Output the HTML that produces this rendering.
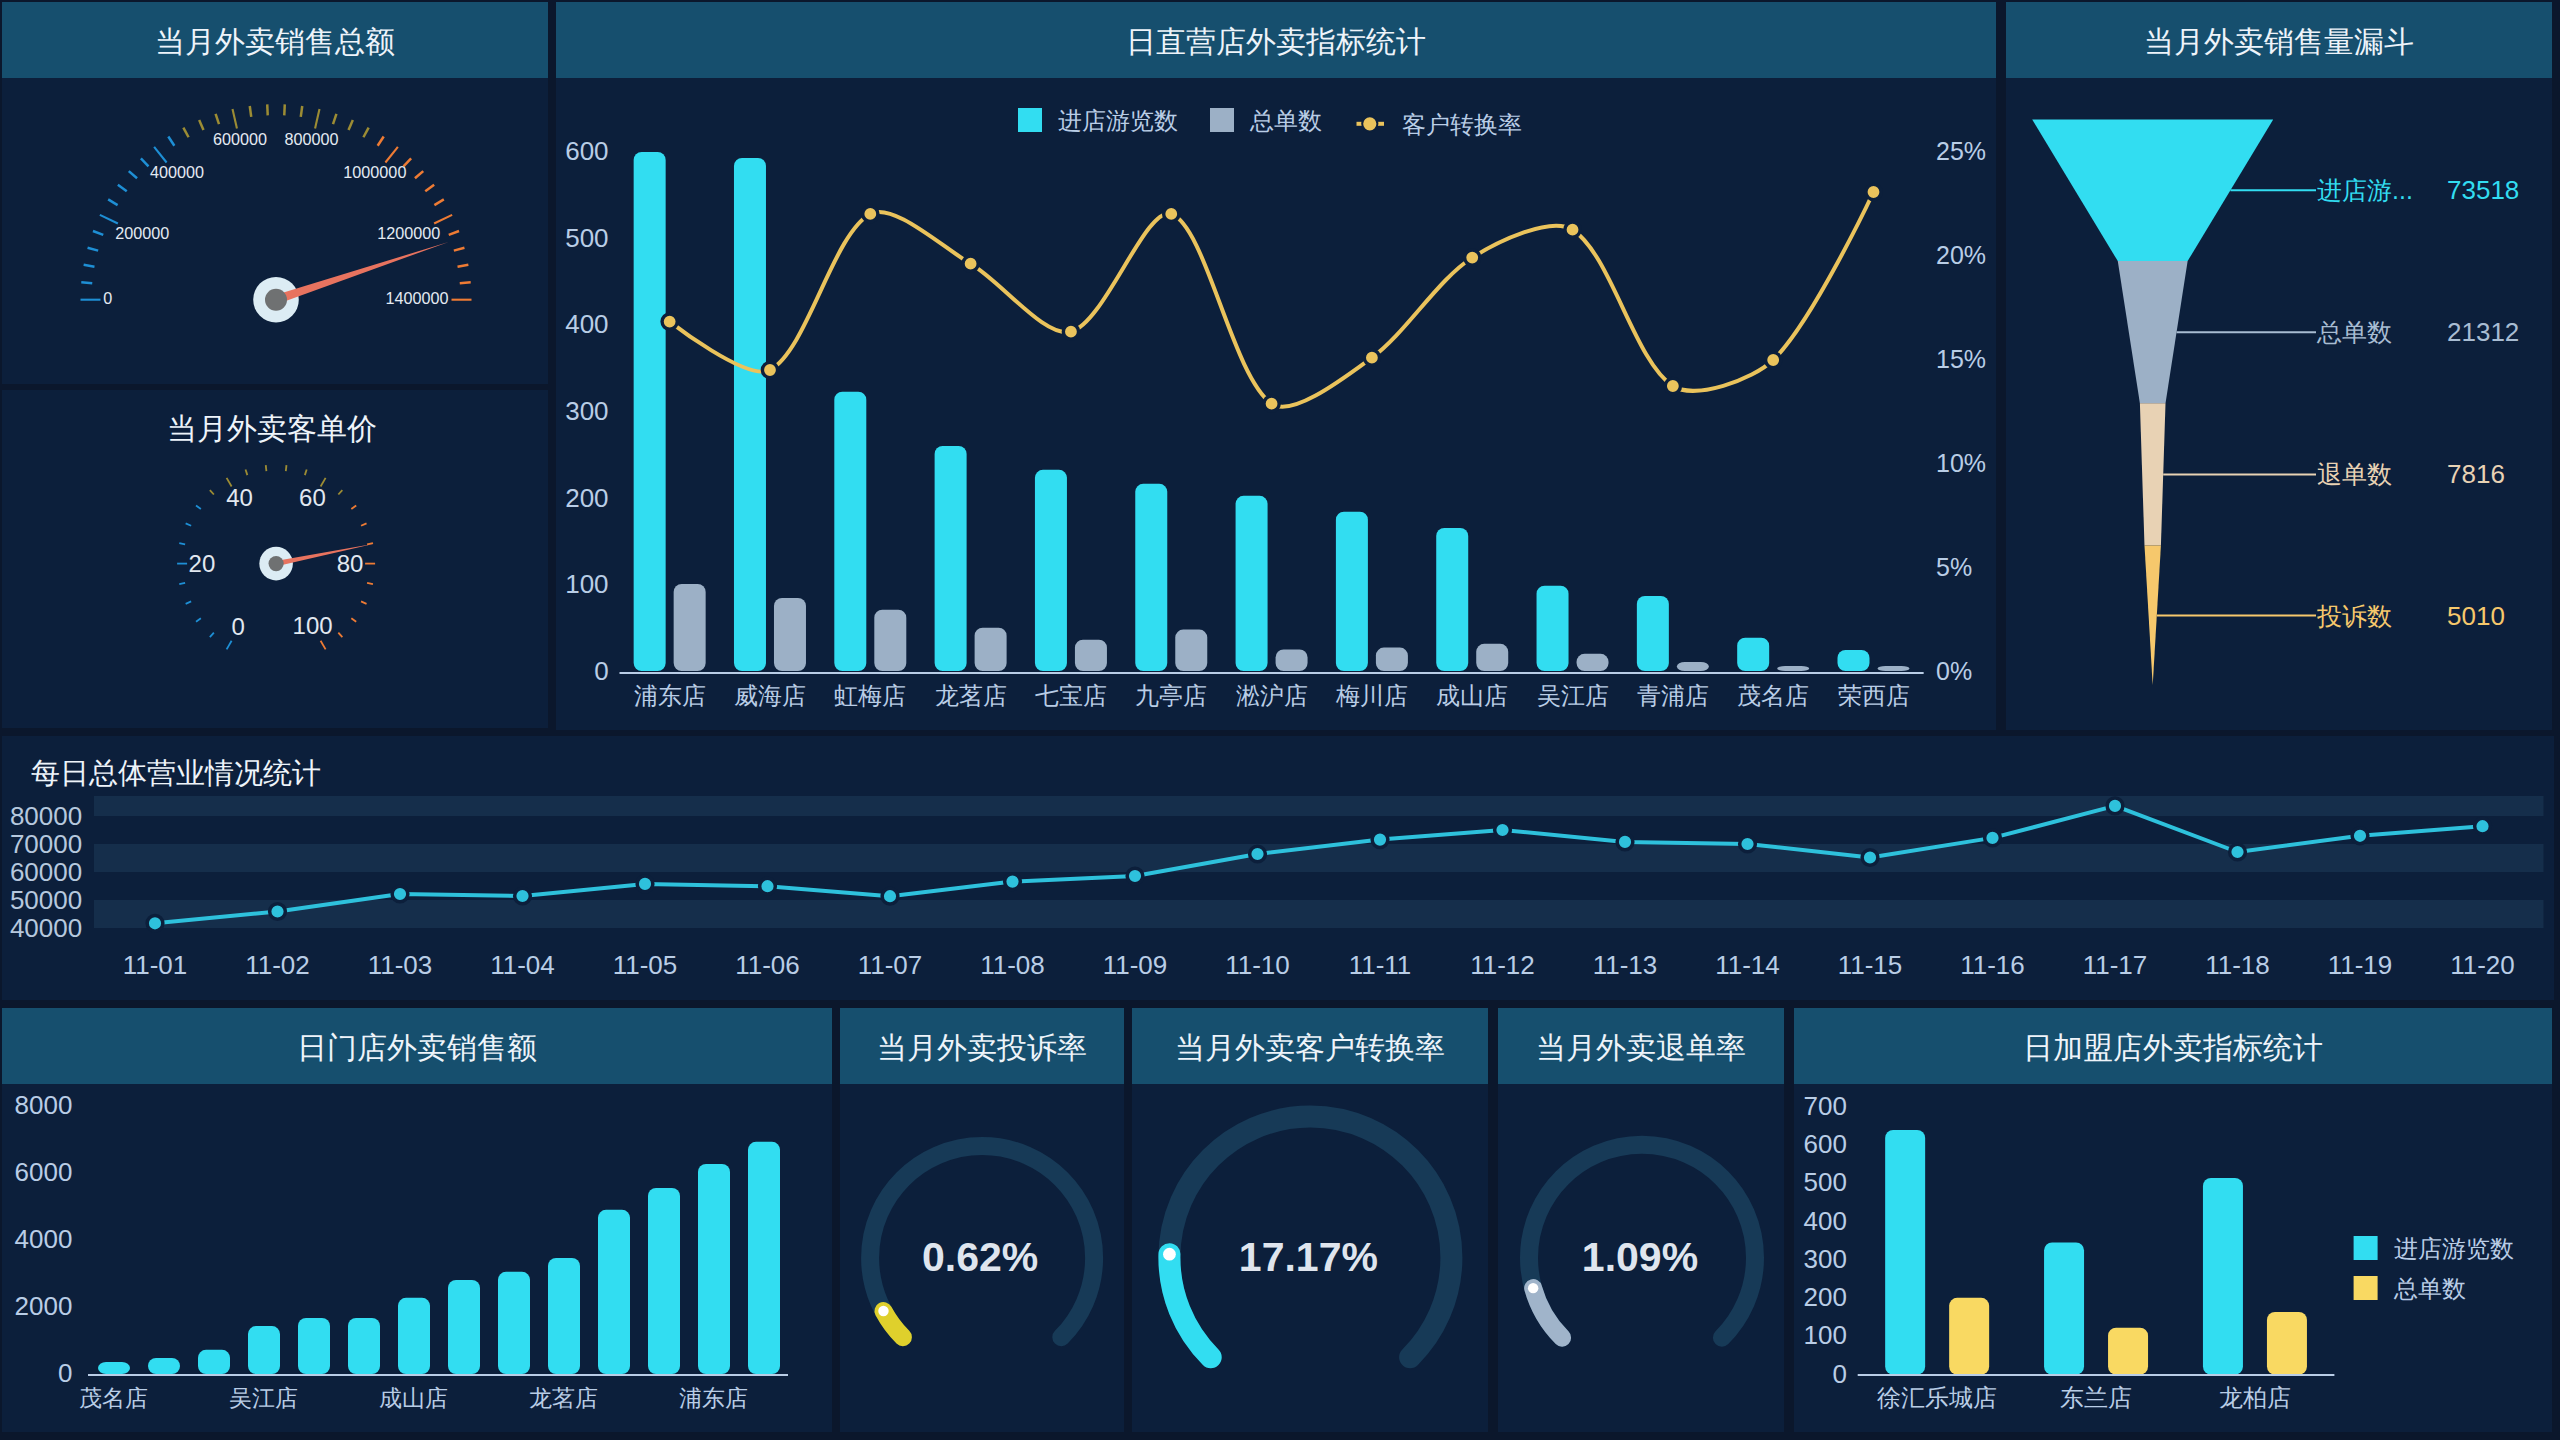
<!DOCTYPE html>
<html><head><meta charset="utf-8"><title>外卖数据大屏</title>
<style>html,body{margin:0;padding:0;background:#0b172c;width:2560px;height:1440px;overflow:hidden}
svg{display:block;font-family:'Liberation Sans', sans-serif}</style></head>
<body><svg width="2560" height="1440" viewBox="0 0 2560 1440">
<rect x="0.00" y="0.00" width="2560.00" height="1440.00" fill="#0b172c" />
<rect x="2.00" y="2.00" width="546.00" height="382.00" fill="#0c1f3b" />
<rect x="2.00" y="2.00" width="546.00" height="76.00" fill="#164f6e" />
<text x="275.00" y="41.00" font-size="30" fill="#eef4fa" text-anchor="middle" dominant-baseline="central" font-weight="normal" >当月外卖销售总额</text>
<rect x="2.00" y="390.00" width="546.00" height="338.00" fill="#0c1f3b" />
<rect x="556.00" y="2.00" width="1440.00" height="728.00" fill="#0c1f3b" />
<rect x="556.00" y="2.00" width="1440.00" height="76.00" fill="#164f6e" />
<text x="1276.00" y="41.00" font-size="30" fill="#eef4fa" text-anchor="middle" dominant-baseline="central" font-weight="normal" >日直营店外卖指标统计</text>
<rect x="2006.00" y="2.00" width="546.00" height="728.00" fill="#0c1f3b" />
<rect x="2006.00" y="2.00" width="546.00" height="76.00" fill="#164f6e" />
<text x="2279.00" y="41.00" font-size="30" fill="#eef4fa" text-anchor="middle" dominant-baseline="central" font-weight="normal" >当月外卖销售量漏斗</text>
<rect x="2.00" y="736.00" width="2552.00" height="264.00" fill="#0c1f3b" />
<rect x="2.00" y="1008.00" width="830.00" height="424.00" fill="#0c1f3b" />
<rect x="2.00" y="1008.00" width="830.00" height="76.00" fill="#164f6e" />
<text x="417.00" y="1047.00" font-size="30" fill="#eef4fa" text-anchor="middle" dominant-baseline="central" font-weight="normal" >日门店外卖销售额</text>
<rect x="840.00" y="1008.00" width="284.00" height="424.00" fill="#0c1f3b" />
<rect x="840.00" y="1008.00" width="284.00" height="76.00" fill="#164f6e" />
<text x="982.00" y="1047.00" font-size="30" fill="#eef4fa" text-anchor="middle" dominant-baseline="central" font-weight="normal" >当月外卖投诉率</text>
<rect x="1132.00" y="1008.00" width="356.00" height="424.00" fill="#0c1f3b" />
<rect x="1132.00" y="1008.00" width="356.00" height="76.00" fill="#164f6e" />
<text x="1310.00" y="1047.00" font-size="30" fill="#eef4fa" text-anchor="middle" dominant-baseline="central" font-weight="normal" >当月外卖客户转换率</text>
<rect x="1498.00" y="1008.00" width="286.00" height="424.00" fill="#0c1f3b" />
<rect x="1498.00" y="1008.00" width="286.00" height="76.00" fill="#164f6e" />
<text x="1641.00" y="1047.00" font-size="30" fill="#eef4fa" text-anchor="middle" dominant-baseline="central" font-weight="normal" >当月外卖退单率</text>
<rect x="1794.00" y="1008.00" width="758.00" height="424.00" fill="#0c1f3b" />
<rect x="1794.00" y="1008.00" width="758.00" height="76.00" fill="#164f6e" />
<text x="2173.00" y="1047.00" font-size="30" fill="#eef4fa" text-anchor="middle" dominant-baseline="central" font-weight="normal" >日加盟店外卖指标统计</text>
<line x1="80.50" y1="299.70" x2="100.50" y2="299.70" stroke="#1e8fd5" stroke-width="2.1"/>
<line x1="81.29" y1="282.18" x2="92.24" y2="283.16" stroke="#1e8fd5" stroke-width="2.5"/>
<line x1="83.64" y1="264.79" x2="94.46" y2="266.76" stroke="#1e8fd5" stroke-width="2.5"/>
<line x1="87.55" y1="247.69" x2="98.15" y2="250.62" stroke="#1e8fd5" stroke-width="2.5"/>
<line x1="92.97" y1="231.01" x2="103.26" y2="234.87" stroke="#1e8fd5" stroke-width="2.5"/>
<line x1="99.86" y1="214.88" x2="117.88" y2="223.55" stroke="#1e8fd5" stroke-width="2.1"/>
<line x1="108.17" y1="199.43" x2="117.62" y2="205.07" stroke="#1e8fd5" stroke-width="2.5"/>
<line x1="117.84" y1="184.79" x2="126.74" y2="191.25" stroke="#1e8fd5" stroke-width="2.5"/>
<line x1="128.77" y1="171.07" x2="137.06" y2="178.31" stroke="#1e8fd5" stroke-width="2.5"/>
<line x1="140.90" y1="158.39" x2="148.50" y2="166.34" stroke="#1e8fd5" stroke-width="2.5"/>
<line x1="154.11" y1="146.85" x2="166.58" y2="162.49" stroke="#1e8fd5" stroke-width="2.1"/>
<line x1="168.30" y1="136.54" x2="174.36" y2="145.72" stroke="#1e8fd5" stroke-width="2.5"/>
<line x1="183.36" y1="127.54" x2="188.57" y2="137.23" stroke="#9c8c34" stroke-width="2.5"/>
<line x1="199.16" y1="119.93" x2="203.49" y2="130.05" stroke="#9c8c34" stroke-width="2.5"/>
<line x1="215.59" y1="113.77" x2="218.99" y2="124.23" stroke="#9c8c34" stroke-width="2.5"/>
<line x1="232.50" y1="109.10" x2="236.95" y2="128.60" stroke="#9c8c34" stroke-width="2.1"/>
<line x1="249.76" y1="105.97" x2="251.23" y2="116.87" stroke="#9c8c34" stroke-width="2.5"/>
<line x1="267.23" y1="104.40" x2="267.72" y2="115.39" stroke="#9c8c34" stroke-width="2.5"/>
<line x1="284.77" y1="104.40" x2="284.28" y2="115.39" stroke="#9c8c34" stroke-width="2.5"/>
<line x1="302.24" y1="105.97" x2="300.77" y2="116.87" stroke="#9c8c34" stroke-width="2.5"/>
<line x1="319.50" y1="109.10" x2="315.05" y2="128.60" stroke="#9c8c34" stroke-width="2.1"/>
<line x1="336.41" y1="113.77" x2="333.01" y2="124.23" stroke="#9c8c34" stroke-width="2.5"/>
<line x1="352.84" y1="119.93" x2="348.51" y2="130.05" stroke="#9c8c34" stroke-width="2.5"/>
<line x1="368.64" y1="127.54" x2="363.43" y2="137.23" stroke="#9c8c34" stroke-width="2.5"/>
<line x1="383.70" y1="136.54" x2="377.64" y2="145.72" stroke="#ee7b34" stroke-width="2.5"/>
<line x1="397.89" y1="146.85" x2="385.42" y2="162.49" stroke="#ee7b34" stroke-width="2.1"/>
<line x1="411.10" y1="158.39" x2="403.50" y2="166.34" stroke="#ee7b34" stroke-width="2.5"/>
<line x1="423.23" y1="171.07" x2="414.94" y2="178.31" stroke="#ee7b34" stroke-width="2.5"/>
<line x1="434.16" y1="184.79" x2="425.26" y2="191.25" stroke="#ee7b34" stroke-width="2.5"/>
<line x1="443.83" y1="199.43" x2="434.38" y2="205.07" stroke="#ee7b34" stroke-width="2.5"/>
<line x1="452.14" y1="214.88" x2="434.12" y2="223.55" stroke="#ee7b34" stroke-width="2.1"/>
<line x1="459.03" y1="231.01" x2="448.74" y2="234.87" stroke="#ee7b34" stroke-width="2.5"/>
<line x1="464.45" y1="247.69" x2="453.85" y2="250.62" stroke="#ee7b34" stroke-width="2.5"/>
<line x1="468.36" y1="264.79" x2="457.54" y2="266.76" stroke="#ee7b34" stroke-width="2.5"/>
<line x1="470.71" y1="282.18" x2="459.76" y2="283.16" stroke="#ee7b34" stroke-width="2.5"/>
<line x1="471.50" y1="299.70" x2="451.50" y2="299.70" stroke="#ee7b34" stroke-width="2.1"/>
<text x="103.30" y="297.80" font-size="16.2" fill="#e4eaf2" text-anchor="start" dominant-baseline="central" font-weight="normal" >0</text>
<text x="115.30" y="233.30" font-size="16.2" fill="#e4eaf2" text-anchor="start" dominant-baseline="central" font-weight="normal" >200000</text>
<text x="150.00" y="172.20" font-size="16.2" fill="#e4eaf2" text-anchor="start" dominant-baseline="central" font-weight="normal" >400000</text>
<text x="240.00" y="138.90" font-size="16.2" fill="#e4eaf2" text-anchor="middle" dominant-baseline="central" font-weight="normal" >600000</text>
<text x="311.50" y="138.90" font-size="16.2" fill="#e4eaf2" text-anchor="middle" dominant-baseline="central" font-weight="normal" >800000</text>
<text x="406.40" y="172.20" font-size="16.2" fill="#e4eaf2" text-anchor="end" dominant-baseline="central" font-weight="normal" >1000000</text>
<text x="440.30" y="233.30" font-size="16.2" fill="#e4eaf2" text-anchor="end" dominant-baseline="central" font-weight="normal" >1200000</text>
<text x="448.60" y="297.80" font-size="16.2" fill="#e4eaf2" text-anchor="end" dominant-baseline="central" font-weight="normal" >1400000</text>
<circle cx="276.0" cy="299.7" r="22.8" fill="#dcecf4"/>
<polygon points="267.28,302.62 277.46,304.06 448.59,241.95 274.54,295.34" fill="#e8735f"/>
<circle cx="276.0" cy="299.7" r="11" fill="#6f7172"/>
<text x="271.50" y="428.00" font-size="30" fill="#eef4fa" text-anchor="middle" dominant-baseline="central" font-weight="normal" >当月外卖客单价</text>
<line x1="226.60" y1="649.34" x2="231.60" y2="640.68" stroke="#1e8fd5" stroke-width="1.8"/>
<line x1="209.86" y1="637.17" x2="213.87" y2="632.71" stroke="#1e8fd5" stroke-width="1.8"/>
<line x1="196.01" y1="621.79" x2="200.86" y2="618.26" stroke="#1e8fd5" stroke-width="1.8"/>
<line x1="185.66" y1="603.87" x2="191.14" y2="601.43" stroke="#1e8fd5" stroke-width="1.8"/>
<line x1="179.26" y1="584.18" x2="185.13" y2="582.94" stroke="#1e8fd5" stroke-width="1.8"/>
<line x1="177.10" y1="563.60" x2="187.10" y2="563.60" stroke="#1e8fd5" stroke-width="1.8"/>
<line x1="179.26" y1="543.02" x2="185.13" y2="544.26" stroke="#1e8fd5" stroke-width="1.8"/>
<line x1="185.66" y1="523.33" x2="191.14" y2="525.77" stroke="#1e8fd5" stroke-width="1.8"/>
<line x1="196.01" y1="505.41" x2="200.86" y2="508.94" stroke="#1e8fd5" stroke-width="1.8"/>
<line x1="209.86" y1="490.03" x2="213.87" y2="494.49" stroke="#9c8c34" stroke-width="1.8"/>
<line x1="226.60" y1="477.86" x2="231.60" y2="486.52" stroke="#9c8c34" stroke-width="1.8"/>
<line x1="245.51" y1="469.45" x2="247.36" y2="475.15" stroke="#9c8c34" stroke-width="1.8"/>
<line x1="265.75" y1="465.14" x2="266.38" y2="471.11" stroke="#9c8c34" stroke-width="1.8"/>
<line x1="286.45" y1="465.14" x2="285.82" y2="471.11" stroke="#9c8c34" stroke-width="1.8"/>
<line x1="306.69" y1="469.45" x2="304.84" y2="475.15" stroke="#9c8c34" stroke-width="1.8"/>
<line x1="325.60" y1="477.86" x2="320.60" y2="486.52" stroke="#9c8c34" stroke-width="1.8"/>
<line x1="342.34" y1="490.03" x2="338.33" y2="494.49" stroke="#9c8c34" stroke-width="1.8"/>
<line x1="356.19" y1="505.41" x2="351.34" y2="508.94" stroke="#ee7b34" stroke-width="1.8"/>
<line x1="366.54" y1="523.33" x2="361.06" y2="525.77" stroke="#ee7b34" stroke-width="1.8"/>
<line x1="372.94" y1="543.02" x2="367.07" y2="544.26" stroke="#ee7b34" stroke-width="1.8"/>
<line x1="375.10" y1="563.60" x2="365.10" y2="563.60" stroke="#ee7b34" stroke-width="1.8"/>
<line x1="372.94" y1="584.18" x2="367.07" y2="582.94" stroke="#ee7b34" stroke-width="1.8"/>
<line x1="366.54" y1="603.87" x2="361.06" y2="601.43" stroke="#ee7b34" stroke-width="1.8"/>
<line x1="356.19" y1="621.79" x2="351.34" y2="618.26" stroke="#ee7b34" stroke-width="1.8"/>
<line x1="342.34" y1="637.17" x2="338.33" y2="632.71" stroke="#ee7b34" stroke-width="1.8"/>
<line x1="325.60" y1="649.34" x2="320.60" y2="640.68" stroke="#ee7b34" stroke-width="1.8"/>
<text x="238.20" y="626.20" font-size="24" fill="#e2e8f0" text-anchor="middle" dominant-baseline="central" font-weight="normal" >0</text>
<text x="201.90" y="563.30" font-size="24" fill="#e2e8f0" text-anchor="middle" dominant-baseline="central" font-weight="normal" >20</text>
<text x="239.60" y="497.60" font-size="24" fill="#e2e8f0" text-anchor="middle" dominant-baseline="central" font-weight="normal" >40</text>
<text x="312.40" y="497.60" font-size="24" fill="#e2e8f0" text-anchor="middle" dominant-baseline="central" font-weight="normal" >60</text>
<text x="350.00" y="563.30" font-size="24" fill="#e2e8f0" text-anchor="middle" dominant-baseline="central" font-weight="normal" >80</text>
<text x="312.60" y="625.30" font-size="24" fill="#e2e8f0" text-anchor="middle" dominant-baseline="central" font-weight="normal" >100</text>
<circle cx="276.1" cy="563.6" r="16.8" fill="#dcecf4"/>
<polygon points="271.00,564.64 276.62,566.15 374.09,543.66 275.58,561.05" fill="#e8735f"/>
<circle cx="276.1" cy="563.6" r="7.6" fill="#6f7172"/>
<rect x="1018.00" y="108.00" width="24.00" height="24.00" fill="#32ddf1" />
<text x="1058.00" y="120.00" font-size="24" fill="#b9cde6" text-anchor="start" dominant-baseline="central" font-weight="normal" >进店游览数</text>
<rect x="1210.00" y="108.00" width="24.00" height="24.00" fill="#9cb0c6" />
<text x="1250.00" y="120.00" font-size="24" fill="#b9cde6" text-anchor="start" dominant-baseline="central" font-weight="normal" >总单数</text>
<line x1="1356.5" y1="123.8" x2="1384" y2="123.8" stroke="#eac35c" stroke-width="4"/>
<circle cx="1369.8" cy="123.8" r="7.6" fill="#eac35c" stroke="#0c1f3b" stroke-width="2"/>
<text x="1402.00" y="124.00" font-size="24" fill="#b9cde6" text-anchor="start" dominant-baseline="central" font-weight="normal" >客户转换率</text>
<text x="608.60" y="671.00" font-size="26" fill="#b9cde6" text-anchor="end" dominant-baseline="central" font-weight="normal" >0</text>
<text x="608.60" y="584.33" font-size="26" fill="#b9cde6" text-anchor="end" dominant-baseline="central" font-weight="normal" >100</text>
<text x="608.60" y="497.66" font-size="26" fill="#b9cde6" text-anchor="end" dominant-baseline="central" font-weight="normal" >200</text>
<text x="608.60" y="410.99" font-size="26" fill="#b9cde6" text-anchor="end" dominant-baseline="central" font-weight="normal" >300</text>
<text x="608.60" y="324.32" font-size="26" fill="#b9cde6" text-anchor="end" dominant-baseline="central" font-weight="normal" >400</text>
<text x="608.60" y="237.65" font-size="26" fill="#b9cde6" text-anchor="end" dominant-baseline="central" font-weight="normal" >500</text>
<text x="608.60" y="150.98" font-size="26" fill="#b9cde6" text-anchor="end" dominant-baseline="central" font-weight="normal" >600</text>
<text x="1936.00" y="671.00" font-size="25" fill="#b9cde6" text-anchor="start" dominant-baseline="central" font-weight="normal" >0%</text>
<text x="1936.00" y="567.00" font-size="25" fill="#b9cde6" text-anchor="start" dominant-baseline="central" font-weight="normal" >5%</text>
<text x="1936.00" y="463.00" font-size="25" fill="#b9cde6" text-anchor="start" dominant-baseline="central" font-weight="normal" >10%</text>
<text x="1936.00" y="359.00" font-size="25" fill="#b9cde6" text-anchor="start" dominant-baseline="central" font-weight="normal" >15%</text>
<text x="1936.00" y="255.00" font-size="25" fill="#b9cde6" text-anchor="start" dominant-baseline="central" font-weight="normal" >20%</text>
<text x="1936.00" y="151.00" font-size="25" fill="#b9cde6" text-anchor="start" dominant-baseline="central" font-weight="normal" >25%</text>
<rect x="633.66" y="152.00" width="32" height="519.00" rx="8" ry="8.00" fill="#32ddf1"/>
<rect x="673.66" y="584.00" width="32" height="87.00" rx="8" ry="8.00" fill="#9cb0c6"/>
<text x="669.66" y="695.50" font-size="24" fill="#b9cde6" text-anchor="middle" dominant-baseline="central" font-weight="normal" >浦东店</text>
<rect x="733.98" y="158.00" width="32" height="513.00" rx="8" ry="8.00" fill="#32ddf1"/>
<rect x="773.98" y="598.00" width="32" height="73.00" rx="8" ry="8.00" fill="#9cb0c6"/>
<text x="769.98" y="695.50" font-size="24" fill="#b9cde6" text-anchor="middle" dominant-baseline="central" font-weight="normal" >威海店</text>
<rect x="834.30" y="391.70" width="32" height="279.30" rx="8" ry="8.00" fill="#32ddf1"/>
<rect x="874.30" y="609.70" width="32" height="61.30" rx="8" ry="8.00" fill="#9cb0c6"/>
<text x="870.30" y="695.50" font-size="24" fill="#b9cde6" text-anchor="middle" dominant-baseline="central" font-weight="normal" >虹梅店</text>
<rect x="934.62" y="446.00" width="32" height="225.00" rx="8" ry="8.00" fill="#32ddf1"/>
<rect x="974.62" y="627.70" width="32" height="43.30" rx="8" ry="8.00" fill="#9cb0c6"/>
<text x="970.62" y="695.50" font-size="24" fill="#b9cde6" text-anchor="middle" dominant-baseline="central" font-weight="normal" >龙茗店</text>
<rect x="1034.94" y="469.80" width="32" height="201.20" rx="8" ry="8.00" fill="#32ddf1"/>
<rect x="1074.94" y="639.70" width="32" height="31.30" rx="8" ry="8.00" fill="#9cb0c6"/>
<text x="1070.94" y="695.50" font-size="24" fill="#b9cde6" text-anchor="middle" dominant-baseline="central" font-weight="normal" >七宝店</text>
<rect x="1135.26" y="483.80" width="32" height="187.20" rx="8" ry="8.00" fill="#32ddf1"/>
<rect x="1175.26" y="629.60" width="32" height="41.40" rx="8" ry="8.00" fill="#9cb0c6"/>
<text x="1171.26" y="695.50" font-size="24" fill="#b9cde6" text-anchor="middle" dominant-baseline="central" font-weight="normal" >九亭店</text>
<rect x="1235.58" y="495.80" width="32" height="175.20" rx="8" ry="8.00" fill="#32ddf1"/>
<rect x="1275.58" y="649.50" width="32" height="21.50" rx="8" ry="8.00" fill="#9cb0c6"/>
<text x="1271.58" y="695.50" font-size="24" fill="#b9cde6" text-anchor="middle" dominant-baseline="central" font-weight="normal" >淞沪店</text>
<rect x="1335.90" y="511.70" width="32" height="159.30" rx="8" ry="8.00" fill="#32ddf1"/>
<rect x="1375.90" y="647.60" width="32" height="23.40" rx="8" ry="8.00" fill="#9cb0c6"/>
<text x="1371.90" y="695.50" font-size="24" fill="#b9cde6" text-anchor="middle" dominant-baseline="central" font-weight="normal" >梅川店</text>
<rect x="1436.22" y="528.00" width="32" height="143.00" rx="8" ry="8.00" fill="#32ddf1"/>
<rect x="1476.22" y="643.80" width="32" height="27.20" rx="8" ry="8.00" fill="#9cb0c6"/>
<text x="1472.22" y="695.50" font-size="24" fill="#b9cde6" text-anchor="middle" dominant-baseline="central" font-weight="normal" >成山店</text>
<rect x="1536.54" y="585.70" width="32" height="85.30" rx="8" ry="8.00" fill="#32ddf1"/>
<rect x="1576.54" y="653.80" width="32" height="17.20" rx="8" ry="8.00" fill="#9cb0c6"/>
<text x="1572.54" y="695.50" font-size="24" fill="#b9cde6" text-anchor="middle" dominant-baseline="central" font-weight="normal" >吴江店</text>
<rect x="1636.86" y="595.90" width="32" height="75.10" rx="8" ry="8.00" fill="#32ddf1"/>
<rect x="1676.86" y="661.90" width="32" height="9.10" rx="8" ry="4.55" fill="#9cb0c6"/>
<text x="1672.86" y="695.50" font-size="24" fill="#b9cde6" text-anchor="middle" dominant-baseline="central" font-weight="normal" >青浦店</text>
<rect x="1737.18" y="637.70" width="32" height="33.30" rx="8" ry="8.00" fill="#32ddf1"/>
<rect x="1777.18" y="666.00" width="32" height="5.00" rx="8" ry="2.50" fill="#9cb0c6"/>
<text x="1773.18" y="695.50" font-size="24" fill="#b9cde6" text-anchor="middle" dominant-baseline="central" font-weight="normal" >茂名店</text>
<rect x="1837.50" y="649.90" width="32" height="21.10" rx="8" ry="8.00" fill="#32ddf1"/>
<rect x="1877.50" y="666.00" width="32" height="5.00" rx="8" ry="2.50" fill="#9cb0c6"/>
<text x="1873.50" y="695.50" font-size="24" fill="#b9cde6" text-anchor="middle" dominant-baseline="central" font-weight="normal" >荣西店</text>
<rect x="619.5" y="672" width="1304.16" height="2" fill="#b9cde6"/>
<path d="M669.66,321.60 C669.66,321.60 747.40,382.12 769.98,370.00 C807.59,349.81 832.76,233.79 870.30,213.90 C892.96,201.90 941.71,246.73 970.62,263.70 C1001.90,282.07 1044.50,338.26 1070.94,331.70 C1104.69,323.32 1146.05,204.85 1171.26,213.90 C1206.24,226.45 1231.83,375.21 1271.58,403.70 C1292.02,418.35 1345.55,376.89 1371.90,357.70 C1405.74,333.06 1437.52,279.74 1472.22,257.60 C1497.71,241.34 1550.92,215.86 1572.54,229.70 C1611.11,254.38 1634.23,360.91 1672.86,386.00 C1694.42,400.00 1752.34,380.15 1773.18,360.00 C1812.53,321.95 1873.50,192.00 1873.50,192.00" fill="none" stroke="#eac35c" stroke-width="4"/>
<circle cx="669.66" cy="321.60" r="7.6" fill="#eac35c" stroke="#0c1f3b" stroke-width="3.4"/>
<circle cx="769.98" cy="370.00" r="7.6" fill="#eac35c" stroke="#0c1f3b" stroke-width="3.4"/>
<circle cx="870.30" cy="213.90" r="7.6" fill="#eac35c" stroke="#0c1f3b" stroke-width="3.4"/>
<circle cx="970.62" cy="263.70" r="7.6" fill="#eac35c" stroke="#0c1f3b" stroke-width="3.4"/>
<circle cx="1070.94" cy="331.70" r="7.6" fill="#eac35c" stroke="#0c1f3b" stroke-width="3.4"/>
<circle cx="1171.26" cy="213.90" r="7.6" fill="#eac35c" stroke="#0c1f3b" stroke-width="3.4"/>
<circle cx="1271.58" cy="403.70" r="7.6" fill="#eac35c" stroke="#0c1f3b" stroke-width="3.4"/>
<circle cx="1371.90" cy="357.70" r="7.6" fill="#eac35c" stroke="#0c1f3b" stroke-width="3.4"/>
<circle cx="1472.22" cy="257.60" r="7.6" fill="#eac35c" stroke="#0c1f3b" stroke-width="3.4"/>
<circle cx="1572.54" cy="229.70" r="7.6" fill="#eac35c" stroke="#0c1f3b" stroke-width="3.4"/>
<circle cx="1672.86" cy="386.00" r="7.6" fill="#eac35c" stroke="#0c1f3b" stroke-width="3.4"/>
<circle cx="1773.18" cy="360.00" r="7.6" fill="#eac35c" stroke="#0c1f3b" stroke-width="3.4"/>
<circle cx="1873.50" cy="192.00" r="7.6" fill="#eac35c" stroke="#0c1f3b" stroke-width="3.4"/>
<polygon points="2032.20,119.6 2273.20,119.6 2187.63,261.1 2117.77,261.1" fill="#32ddf1"/>
<line x1="2230.42" y1="190.35" x2="2316" y2="190.35" stroke="#32ddf1" stroke-width="2"/>
<text x="2317.00" y="190.35" font-size="25" fill="#32ddf1" text-anchor="start" dominant-baseline="central" font-weight="500" >进店游...</text>
<text x="2447.00" y="190.35" font-size="26" fill="#32ddf1" text-anchor="start" dominant-baseline="central" font-weight="normal" >73518</text>
<polygon points="2117.77,261.1 2187.63,261.1 2165.51,403.3 2139.89,403.3" fill="#9cb0c6"/>
<line x1="2176.57" y1="332.20" x2="2316" y2="332.20" stroke="#a8bcd2" stroke-width="2"/>
<text x="2317.00" y="332.20" font-size="25" fill="#a8bcd2" text-anchor="start" dominant-baseline="central" font-weight="500" >总单数</text>
<text x="2447.00" y="332.20" font-size="26" fill="#a8bcd2" text-anchor="start" dominant-baseline="central" font-weight="normal" >21312</text>
<polygon points="2139.89,403.3 2165.51,403.3 2160.91,545.6 2144.49,545.6" fill="#e8d2b4"/>
<line x1="2163.21" y1="474.45" x2="2316" y2="474.45" stroke="#e8d2b4" stroke-width="2"/>
<text x="2317.00" y="474.45" font-size="25" fill="#e8d2b4" text-anchor="start" dominant-baseline="central" font-weight="500" >退单数</text>
<text x="2447.00" y="474.45" font-size="26" fill="#e8d2b4" text-anchor="start" dominant-baseline="central" font-weight="normal" >7816</text>
<polygon points="2144.49,545.6 2160.91,545.6 2152.70,685.6 2152.70,685.6" fill="#f6c86c"/>
<line x1="2156.81" y1="615.60" x2="2316" y2="615.60" stroke="#f6c86c" stroke-width="2"/>
<text x="2317.00" y="615.60" font-size="25" fill="#f6c86c" text-anchor="start" dominant-baseline="central" font-weight="500" >投诉数</text>
<text x="2447.00" y="615.60" font-size="26" fill="#f6c86c" text-anchor="start" dominant-baseline="central" font-weight="normal" >5010</text>
<text x="31.40" y="773.00" font-size="29" fill="#eef4fa" text-anchor="start" dominant-baseline="central" font-weight="normal" >每日总体营业情况统计</text>
<rect x="94.00" y="796.00" width="2449.50" height="20.00" fill="#152e4b" />
<rect x="94.00" y="844.00" width="2449.50" height="28.00" fill="#152e4b" />
<rect x="94.00" y="900.00" width="2449.50" height="28.00" fill="#152e4b" />
<text x="82.20" y="815.50" font-size="26" fill="#b6c8de" text-anchor="end" dominant-baseline="central" font-weight="normal" >80000</text>
<text x="82.20" y="843.50" font-size="26" fill="#b6c8de" text-anchor="end" dominant-baseline="central" font-weight="normal" >70000</text>
<text x="82.20" y="871.50" font-size="26" fill="#b6c8de" text-anchor="end" dominant-baseline="central" font-weight="normal" >60000</text>
<text x="82.20" y="899.50" font-size="26" fill="#b6c8de" text-anchor="end" dominant-baseline="central" font-weight="normal" >50000</text>
<text x="82.20" y="927.50" font-size="26" fill="#b6c8de" text-anchor="end" dominant-baseline="central" font-weight="normal" >40000</text>
<polyline points="155.00,923.30 277.50,911.50 400.00,894.00 522.50,896.00 645.00,883.90 767.50,886.20 890.00,896.20 1012.50,881.60 1135.00,876.00 1257.50,854.00 1380.00,839.60 1502.50,830.00 1625.00,841.90 1747.50,844.00 1870.00,857.50 1992.50,837.90 2115.00,805.90 2237.50,852.00 2360.00,835.80 2482.50,826.20" fill="none" stroke="#2ec1dc" stroke-width="4" stroke-linejoin="round"/>
<circle cx="155.00" cy="923.30" r="7.85" fill="#2ec1dc" stroke="#0c1f3b" stroke-width="3.5"/>
<circle cx="277.50" cy="911.50" r="7.85" fill="#2ec1dc" stroke="#0c1f3b" stroke-width="3.5"/>
<circle cx="400.00" cy="894.00" r="7.85" fill="#2ec1dc" stroke="#0c1f3b" stroke-width="3.5"/>
<circle cx="522.50" cy="896.00" r="7.85" fill="#2ec1dc" stroke="#0c1f3b" stroke-width="3.5"/>
<circle cx="645.00" cy="883.90" r="7.85" fill="#2ec1dc" stroke="#0c1f3b" stroke-width="3.5"/>
<circle cx="767.50" cy="886.20" r="7.85" fill="#2ec1dc" stroke="#0c1f3b" stroke-width="3.5"/>
<circle cx="890.00" cy="896.20" r="7.85" fill="#2ec1dc" stroke="#0c1f3b" stroke-width="3.5"/>
<circle cx="1012.50" cy="881.60" r="7.85" fill="#2ec1dc" stroke="#0c1f3b" stroke-width="3.5"/>
<circle cx="1135.00" cy="876.00" r="7.85" fill="#2ec1dc" stroke="#0c1f3b" stroke-width="3.5"/>
<circle cx="1257.50" cy="854.00" r="7.85" fill="#2ec1dc" stroke="#0c1f3b" stroke-width="3.5"/>
<circle cx="1380.00" cy="839.60" r="7.85" fill="#2ec1dc" stroke="#0c1f3b" stroke-width="3.5"/>
<circle cx="1502.50" cy="830.00" r="7.85" fill="#2ec1dc" stroke="#0c1f3b" stroke-width="3.5"/>
<circle cx="1625.00" cy="841.90" r="7.85" fill="#2ec1dc" stroke="#0c1f3b" stroke-width="3.5"/>
<circle cx="1747.50" cy="844.00" r="7.85" fill="#2ec1dc" stroke="#0c1f3b" stroke-width="3.5"/>
<circle cx="1870.00" cy="857.50" r="7.85" fill="#2ec1dc" stroke="#0c1f3b" stroke-width="3.5"/>
<circle cx="1992.50" cy="837.90" r="7.85" fill="#2ec1dc" stroke="#0c1f3b" stroke-width="3.5"/>
<circle cx="2115.00" cy="805.90" r="7.85" fill="#2ec1dc" stroke="#0c1f3b" stroke-width="3.5"/>
<circle cx="2237.50" cy="852.00" r="7.85" fill="#2ec1dc" stroke="#0c1f3b" stroke-width="3.5"/>
<circle cx="2360.00" cy="835.80" r="7.85" fill="#2ec1dc" stroke="#0c1f3b" stroke-width="3.5"/>
<circle cx="2482.50" cy="826.20" r="7.85" fill="#2ec1dc" stroke="#0c1f3b" stroke-width="3.5"/>
<text x="155.00" y="964.70" font-size="26" fill="#b9cde6" text-anchor="middle" dominant-baseline="central" font-weight="normal" >11-01</text>
<text x="277.50" y="964.70" font-size="26" fill="#b9cde6" text-anchor="middle" dominant-baseline="central" font-weight="normal" >11-02</text>
<text x="400.00" y="964.70" font-size="26" fill="#b9cde6" text-anchor="middle" dominant-baseline="central" font-weight="normal" >11-03</text>
<text x="522.50" y="964.70" font-size="26" fill="#b9cde6" text-anchor="middle" dominant-baseline="central" font-weight="normal" >11-04</text>
<text x="645.00" y="964.70" font-size="26" fill="#b9cde6" text-anchor="middle" dominant-baseline="central" font-weight="normal" >11-05</text>
<text x="767.50" y="964.70" font-size="26" fill="#b9cde6" text-anchor="middle" dominant-baseline="central" font-weight="normal" >11-06</text>
<text x="890.00" y="964.70" font-size="26" fill="#b9cde6" text-anchor="middle" dominant-baseline="central" font-weight="normal" >11-07</text>
<text x="1012.50" y="964.70" font-size="26" fill="#b9cde6" text-anchor="middle" dominant-baseline="central" font-weight="normal" >11-08</text>
<text x="1135.00" y="964.70" font-size="26" fill="#b9cde6" text-anchor="middle" dominant-baseline="central" font-weight="normal" >11-09</text>
<text x="1257.50" y="964.70" font-size="26" fill="#b9cde6" text-anchor="middle" dominant-baseline="central" font-weight="normal" >11-10</text>
<text x="1380.00" y="964.70" font-size="26" fill="#b9cde6" text-anchor="middle" dominant-baseline="central" font-weight="normal" >11-11</text>
<text x="1502.50" y="964.70" font-size="26" fill="#b9cde6" text-anchor="middle" dominant-baseline="central" font-weight="normal" >11-12</text>
<text x="1625.00" y="964.70" font-size="26" fill="#b9cde6" text-anchor="middle" dominant-baseline="central" font-weight="normal" >11-13</text>
<text x="1747.50" y="964.70" font-size="26" fill="#b9cde6" text-anchor="middle" dominant-baseline="central" font-weight="normal" >11-14</text>
<text x="1870.00" y="964.70" font-size="26" fill="#b9cde6" text-anchor="middle" dominant-baseline="central" font-weight="normal" >11-15</text>
<text x="1992.50" y="964.70" font-size="26" fill="#b9cde6" text-anchor="middle" dominant-baseline="central" font-weight="normal" >11-16</text>
<text x="2115.00" y="964.70" font-size="26" fill="#b9cde6" text-anchor="middle" dominant-baseline="central" font-weight="normal" >11-17</text>
<text x="2237.50" y="964.70" font-size="26" fill="#b9cde6" text-anchor="middle" dominant-baseline="central" font-weight="normal" >11-18</text>
<text x="2360.00" y="964.70" font-size="26" fill="#b9cde6" text-anchor="middle" dominant-baseline="central" font-weight="normal" >11-19</text>
<text x="2482.50" y="964.70" font-size="26" fill="#b9cde6" text-anchor="middle" dominant-baseline="central" font-weight="normal" >11-20</text>
<text x="72.40" y="1373.20" font-size="26" fill="#b9cde6" text-anchor="end" dominant-baseline="central" font-weight="normal" >0</text>
<text x="72.40" y="1306.15" font-size="26" fill="#b9cde6" text-anchor="end" dominant-baseline="central" font-weight="normal" >2000</text>
<text x="72.40" y="1239.10" font-size="26" fill="#b9cde6" text-anchor="end" dominant-baseline="central" font-weight="normal" >4000</text>
<text x="72.40" y="1172.05" font-size="26" fill="#b9cde6" text-anchor="end" dominant-baseline="central" font-weight="normal" >6000</text>
<text x="72.40" y="1105.00" font-size="26" fill="#b9cde6" text-anchor="end" dominant-baseline="central" font-weight="normal" >8000</text>
<rect x="98.00" y="1361.90" width="32" height="12.10" rx="8" ry="6.05" fill="#32ddf1"/>
<rect x="148.00" y="1358.00" width="32" height="16.00" rx="8" ry="8.00" fill="#32ddf1"/>
<rect x="198.00" y="1349.80" width="32" height="24.20" rx="8" ry="8.00" fill="#32ddf1"/>
<rect x="248.00" y="1326.10" width="32" height="47.90" rx="8" ry="8.00" fill="#32ddf1"/>
<rect x="298.00" y="1318.00" width="32" height="56.00" rx="8" ry="8.00" fill="#32ddf1"/>
<rect x="348.00" y="1318.00" width="32" height="56.00" rx="8" ry="8.00" fill="#32ddf1"/>
<rect x="398.00" y="1297.80" width="32" height="76.20" rx="8" ry="8.00" fill="#32ddf1"/>
<rect x="448.00" y="1280.00" width="32" height="94.00" rx="8" ry="8.00" fill="#32ddf1"/>
<rect x="498.00" y="1271.80" width="32" height="102.20" rx="8" ry="8.00" fill="#32ddf1"/>
<rect x="548.00" y="1257.90" width="32" height="116.10" rx="8" ry="8.00" fill="#32ddf1"/>
<rect x="598.00" y="1209.80" width="32" height="164.20" rx="8" ry="8.00" fill="#32ddf1"/>
<rect x="648.00" y="1188.00" width="32" height="186.00" rx="8" ry="8.00" fill="#32ddf1"/>
<rect x="698.00" y="1164.00" width="32" height="210.00" rx="8" ry="8.00" fill="#32ddf1"/>
<rect x="748.00" y="1141.80" width="32" height="232.20" rx="8" ry="8.00" fill="#32ddf1"/>
<rect x="88" y="1374" width="700" height="2" fill="#b9cde6"/>
<text x="113.00" y="1397.60" font-size="23" fill="#b9cde6" text-anchor="middle" dominant-baseline="central" font-weight="normal" >茂名店</text>
<text x="263.00" y="1397.60" font-size="23" fill="#b9cde6" text-anchor="middle" dominant-baseline="central" font-weight="normal" >吴江店</text>
<text x="413.00" y="1397.60" font-size="23" fill="#b9cde6" text-anchor="middle" dominant-baseline="central" font-weight="normal" >成山店</text>
<text x="563.00" y="1397.60" font-size="23" fill="#b9cde6" text-anchor="middle" dominant-baseline="central" font-weight="normal" >龙茗店</text>
<text x="713.00" y="1397.60" font-size="23" fill="#b9cde6" text-anchor="middle" dominant-baseline="central" font-weight="normal" >浦东店</text>
<path d="M902.90,1337.20 A112,112 0 1 1 1061.30,1337.20" fill="none" stroke="#173a57" stroke-width="18" stroke-linecap="round"/>
<path d="M902.90,1337.20 A112,112 0 0 1 883.45,1311.03" fill="none" stroke="#dfd02c" stroke-width="18" stroke-linecap="round"/>
<circle cx="883.45" cy="1311.03" r="5.22" fill="#ffffff"/>
<text x="980.10" y="1257.00" font-size="41" fill="#dfe5ee" text-anchor="middle" dominant-baseline="central" font-weight="bold" >0.62%</text>
<path d="M1210.70,1357.20 A141,141 0 1 1 1410.10,1357.20" fill="none" stroke="#173a57" stroke-width="22" stroke-linecap="round"/>
<path d="M1210.70,1357.20 A141,141 0 0 1 1169.44,1254.16" fill="none" stroke="#32ddf1" stroke-width="22" stroke-linecap="round"/>
<circle cx="1169.44" cy="1254.16" r="6.38" fill="#ffffff"/>
<text x="1308.40" y="1256.50" font-size="41" fill="#dfe5ee" text-anchor="middle" dominant-baseline="central" font-weight="bold" >17.17%</text>
<path d="M1562.10,1337.70 A113,113 0 1 1 1721.90,1337.70" fill="none" stroke="#173a57" stroke-width="18" stroke-linecap="round"/>
<path d="M1562.10,1337.70 A113,113 0 0 1 1533.15,1288.13" fill="none" stroke="#a0b4ca" stroke-width="18" stroke-linecap="round"/>
<circle cx="1533.15" cy="1288.13" r="5.22" fill="#ffffff"/>
<text x="1640.00" y="1256.80" font-size="41" fill="#dfe5ee" text-anchor="middle" dominant-baseline="central" font-weight="bold" >1.09%</text>
<text x="1847.00" y="1373.60" font-size="26" fill="#b9cde6" text-anchor="end" dominant-baseline="central" font-weight="normal" >0</text>
<text x="1847.00" y="1335.36" font-size="26" fill="#b9cde6" text-anchor="end" dominant-baseline="central" font-weight="normal" >100</text>
<text x="1847.00" y="1297.12" font-size="26" fill="#b9cde6" text-anchor="end" dominant-baseline="central" font-weight="normal" >200</text>
<text x="1847.00" y="1258.88" font-size="26" fill="#b9cde6" text-anchor="end" dominant-baseline="central" font-weight="normal" >300</text>
<text x="1847.00" y="1220.64" font-size="26" fill="#b9cde6" text-anchor="end" dominant-baseline="central" font-weight="normal" >400</text>
<text x="1847.00" y="1182.40" font-size="26" fill="#b9cde6" text-anchor="end" dominant-baseline="central" font-weight="normal" >500</text>
<text x="1847.00" y="1144.16" font-size="26" fill="#b9cde6" text-anchor="end" dominant-baseline="central" font-weight="normal" >600</text>
<text x="1847.00" y="1105.92" font-size="26" fill="#b9cde6" text-anchor="end" dominant-baseline="central" font-weight="normal" >700</text>
<rect x="1885.15" y="1129.90" width="40" height="244.60" rx="8" fill="#32ddf1"/>
<rect x="1949.15" y="1297.80" width="40" height="76.70" rx="8" fill="#f9d962"/>
<text x="1937.15" y="1397.90" font-size="24" fill="#b9cde6" text-anchor="middle" dominant-baseline="central" font-weight="normal" >徐汇乐城店</text>
<rect x="2044.05" y="1242.40" width="40" height="132.10" rx="8" fill="#32ddf1"/>
<rect x="2108.05" y="1327.70" width="40" height="46.80" rx="8" fill="#f9d962"/>
<text x="2096.05" y="1397.90" font-size="24" fill="#b9cde6" text-anchor="middle" dominant-baseline="central" font-weight="normal" >东兰店</text>
<rect x="2202.95" y="1177.90" width="40" height="196.60" rx="8" fill="#32ddf1"/>
<rect x="2266.95" y="1312.00" width="40" height="62.50" rx="8" fill="#f9d962"/>
<text x="2254.95" y="1397.90" font-size="24" fill="#b9cde6" text-anchor="middle" dominant-baseline="central" font-weight="normal" >龙柏店</text>
<rect x="1857.7" y="1374" width="476.7" height="2" fill="#b9cde6"/>
<rect x="2353.60" y="1236.00" width="24.00" height="24.00" fill="#32ddf1" />
<text x="2393.60" y="1248.00" font-size="24" fill="#b9cde6" text-anchor="start" dominant-baseline="central" font-weight="normal" >进店游览数</text>
<rect x="2353.60" y="1276.00" width="24.00" height="24.00" fill="#f9d962" />
<text x="2393.60" y="1288.00" font-size="24" fill="#b9cde6" text-anchor="start" dominant-baseline="central" font-weight="normal" >总单数</text>
</svg></body></html>
